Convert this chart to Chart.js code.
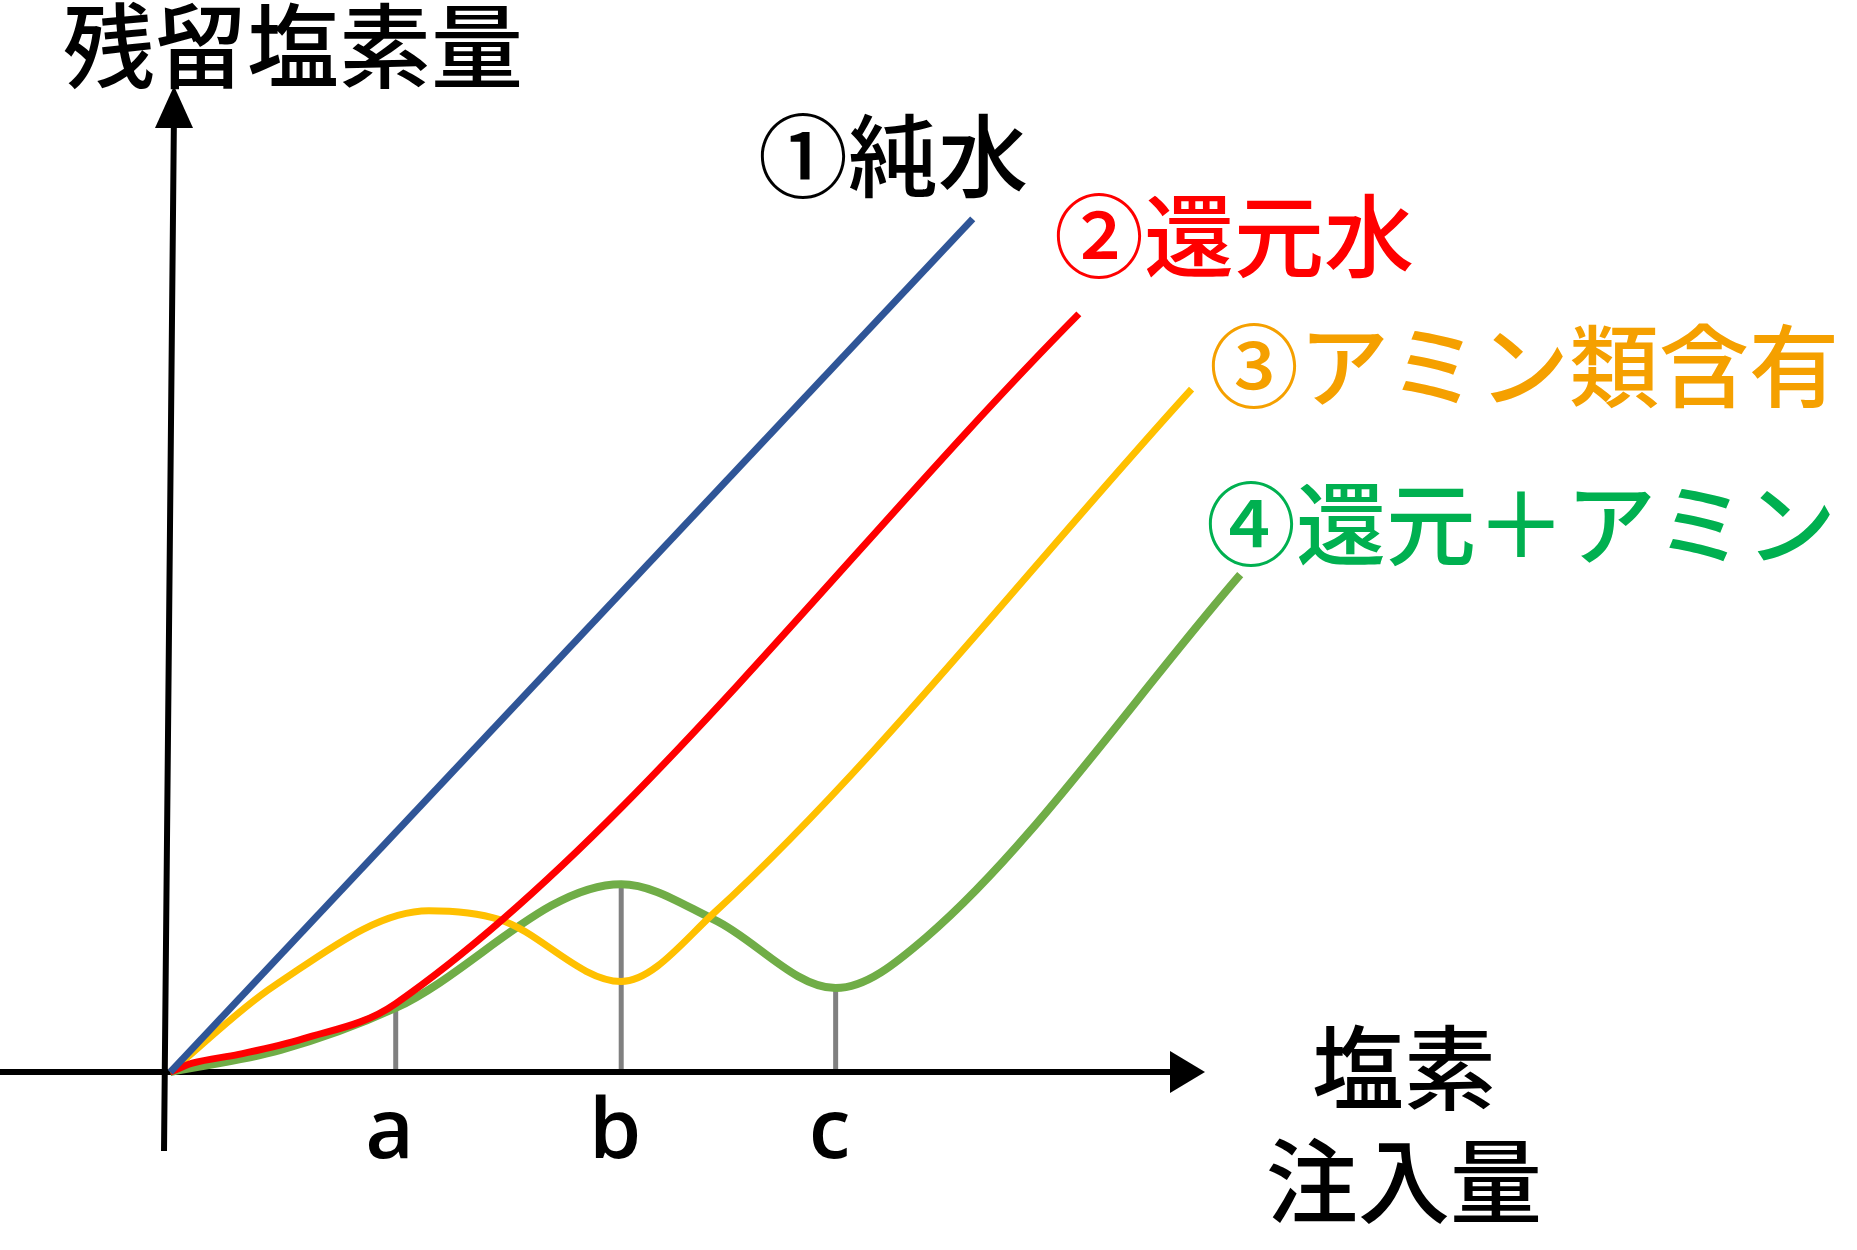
<!DOCTYPE html>
<html><head><meta charset="utf-8">
<script src="https://cdn.jsdelivr.net/npm/chart.js@4"></script>
<style>html,body{margin:0;background:#fff}#wrap{width:1857px;height:1250px}</style>
</head><body><div id="wrap"><canvas id="c"></canvas></div>
<script>
// values in units of the a/b/c tick spacing
var pureWater = [{x: 0, y: 0}, {x: 3.63, y: 3.86}];
var reducedWater = [{x: 0, y: 0}, {x: 0.1, y: 0.04}, {x: 0.31, y: 0.08}, {x: 0.6, y: 0.15}, {x: 1.02, y: 0.31}, {x: 4.11, y: 3.43}];
var amineWater = [{x: 0, y: 0}, {x: 0.47, y: 0.39}, {x: 1.17, y: 0.73}, {x: 1.49, y: 0.69}, {x: 2.04, y: 0.41}, {x: 2.46, y: 0.72}, {x: 4.62, y: 3.09}];
var mixedWater = [{x: 0, y: 0}, {x: 0.5, y: 0.1}, {x: 1.02, y: 0.29}, {x: 2.04, y: 0.85}, {x: 2.46, y: 0.69}, {x: 3.01, y: 0.38}, {x: 3.42, y: 0.61}, {x: 4.84, y: 2.25}];
var tickNames = ['a', 'b', 'c'];
var tickX = [1.02, 2.04, 3.01];
var tickTop = [0.29, 0.85, 0.38];
var seriesNames = ['①純水', '②還元水', '③アミン類含有', '④還元＋アミン'];

var font = '"Noto Sans CJK JP", sans-serif';

var drawings = {
    id: 'drawings',
    beforeDatasetsDraw: function (chart) {
        var c = chart.ctx, x = chart.scales.x, y = chart.scales.y;
        var ox = x.getPixelForValue(0), oy = y.getPixelForValue(0);
        c.save();
        // drop lines
        c.strokeStyle = '#808080';
        c.lineWidth = 5;
        tickX.forEach(function (v, i) {
            c.beginPath();
            c.moveTo(x.getPixelForValue(v), oy);
            c.lineTo(x.getPixelForValue(v), y.getPixelForValue(tickTop[i]));
            c.stroke();
        });
        // axes
        c.strokeStyle = '#000';
        c.fillStyle = '#000';
        c.lineWidth = 6;
        c.beginPath();
        c.moveTo(0, oy); c.lineTo(1175, oy);
        c.moveTo(164, 1151); c.lineTo(174, 110);
        c.stroke();
        c.beginPath();
        c.moveTo(1205, oy); c.lineTo(1170, oy - 21); c.lineTo(1170, oy + 21); c.fill();
        c.beginPath();
        c.moveTo(174, 86); c.lineTo(155, 128); c.lineTo(193, 128); c.fill();
        c.restore();
    },
    afterDraw: function (chart) {
        var c = chart.ctx, x = chart.scales.x;
        c.save();
        c.textBaseline = 'middle';
        c.fillStyle = '#000';
        c.font = '500 92px ' + font;
        c.textAlign = 'left';
        c.fillText('残留塩素量', 63, 46);
        c.textAlign = 'center';
        c.fillText('塩素', 1404, 1068);
        c.fillText('注入量', 1404, 1181);
        c.font = '600 84px "Open Sans", sans-serif';
        tickNames.forEach(function (t, i) {
            c.fillText(t, x.getPixelForValue(tickX[i]) - 6, 1134);
        });
        c.textAlign = 'left';
        c.font = '500 90px ' + font;
        var spots = [[758, 156, '#000'], [1054, 236, '#FF0000'], [1209, 366, '#F5A000'], [1206, 524, '#00B050']];
        seriesNames.forEach(function (n, i) {
            c.fillStyle = spots[i][2];
            c.fillText(n, spots[i][0], spots[i][1]);
        });
        c.restore();
    }
};

new Chart(document.getElementById('c'), {
    type: 'scatter',
    data: {
        datasets: [
            { data: pureWater, borderColor: '#2F5597', borderWidth: 7, showLine: true, pointRadius: 0 },
            { data: reducedWater, borderColor: '#FF0000', borderWidth: 7, showLine: true, pointRadius: 0, cubicInterpolationMode: 'monotone' },
            { data: amineWater, borderColor: '#FFC000', borderWidth: 7, showLine: true, pointRadius: 0, cubicInterpolationMode: 'monotone' },
            { data: mixedWater, borderColor: '#70AD47', borderWidth: 8, showLine: true, pointRadius: 0, cubicInterpolationMode: 'monotone' }
        ]
    },
    options: {
        responsive: true,
        maintainAspectRatio: false,
        animation: false,
        layout: { padding: 0 },
        plugins: { legend: { display: false }, tooltip: { enabled: false } },
        scales: {
            x: { display: false, min: -0.77, max: 7.63 },
            y: { display: false, min: -0.805, max: 4.85 }
        }
    },
    plugins: [drawings]
});
</script>
</body></html>
